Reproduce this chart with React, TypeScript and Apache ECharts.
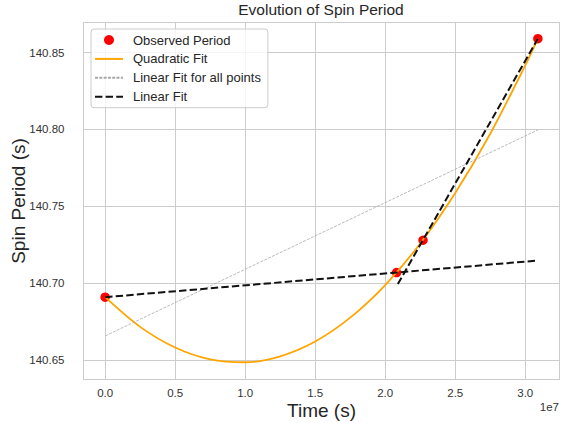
import React, { useEffect, useRef } from "react";
import * as echarts from "echarts";

// Observed data (time in seconds, period in seconds)
const obsTime = [0, 2.081e7, 2.27e7, 3.09e7];
const obsPeriod = [140.691, 140.707, 140.728, 140.859];

// Quadratic fit curve
const quadTime = [0, 0.25e7, 0.5e7, 0.75e7, 1.0e7, 1.25e7, 1.5e7, 1.75e7, 2.0e7, 2.25e7, 2.5e7, 2.75e7, 3.0e7, 3.09e7];
const quadPeriod = [140.691, 140.6717, 140.6583, 140.6506, 140.6487, 140.6526, 140.6622, 140.6777, 140.6989, 140.7259, 140.7587, 140.7972, 140.8416, 140.859];

// Linear fit for all points
const linAllTime = [0, 3.09e7];
const linAllPeriod = [140.6658, 140.7997];

// Linear fits (two segments)
const linATime = [0, 3.09e7];
const linAPeriod = [140.691, 140.7148];
const linBTime = [2.09e7, 3.09e7];
const linBPeriod = [140.6995, 140.859];

const pairs = (xs: number[], ys: number[]) => xs.map((x, i) => [x, ys[i]]);

const FONT = "'Liberation Sans', Arial, Helvetica, sans-serif";
const TXT = "#262626";

export default function App() {
  const ref = useRef<HTMLDivElement>(null);
  useEffect(() => {
    if (!ref.current) return;
    const chart = echarts.init(ref.current, undefined, { renderer: "svg" });
    chart.setOption({
      animation: false,
      backgroundColor: "#ffffff",
      textStyle: { fontFamily: FONT },
      title: {
        text: "Evolution of Spin Period",
        left: 321,
        textAlign: "center",
        top: 1.5,
        padding: 0,
        textStyle: { fontFamily: FONT, fontSize: 15.5, fontWeight: "normal", color: TXT },
      },
      grid: {
        left: 83.5,
        right: 1.5,
        top: 22.5,
        bottom: 43.5,
        show: true,
        borderColor: "#cccccc",
        borderWidth: 1,
        containLabel: false,
        outerBoundsMode: "none",
      },
      legend: {
        orient: "vertical",
        left: 91,
        top: 29,
        padding: [4, 7, 4, 3],
        itemWidth: 28,
        itemHeight: 10,
        itemGap: 4.9,
        backgroundColor: "rgba(255,255,255,0.8)",
        borderColor: "#cccccc",
        borderWidth: 1,
        borderRadius: 3,
        textStyle: { fontFamily: FONT, fontSize: 13, color: TXT, lineHeight: 14, padding: [0, 0, 0, 5] },
        data: [
          { name: "Observed Period" },
          { name: "Quadratic Fit", itemStyle: { opacity: 0 } },
          { name: "Linear Fit for all points", itemStyle: { opacity: 0 } },
          { name: "Linear Fit", itemStyle: { opacity: 0 } },
        ],
      },
      xAxis: {
        type: "value",
        min: -0.1545e7,
        max: 3.2445e7,
        splitNumber: 7,
        name: "Time (s)",
        nameLocation: "middle",
        nameGap: 21,
        nameMoveOverlap: false,
        nameTextStyle: { fontFamily: FONT, fontSize: 19, color: TXT },
        axisLine: { show: false },
        axisTick: { show: false },
        axisLabel: {
          margin: 7,
          fontFamily: FONT,
          fontSize: 11.5,
          color: "#333333",
          showMinLabel: false,
          showMaxLabel: false,
          formatter: (v: number) => {
            const r = v / 1e7;
            return Math.abs(r * 2 - Math.round(r * 2)) < 1e-6 ? r.toFixed(1) : "";
          },
        },
        splitLine: { show: true, lineStyle: { color: "#cccccc", width: 1 } },
      },
      yAxis: {
        type: "value",
        min: 140.6375,
        max: 140.8695,
        splitNumber: 5,
        name: "Spin Period (s)",
        nameLocation: "middle",
        nameGap: 56,
        nameMoveOverlap: false,
        nameTextStyle: { fontFamily: FONT, fontSize: 19, color: TXT },
        axisLine: { show: false },
        axisTick: { show: false },
        axisLabel: {
          margin: 19,
          fontFamily: FONT,
          fontSize: 11.5,
          color: "#333333",
          showMinLabel: false,
          showMaxLabel: false,
          formatter: (v: number) => {
            const r = v * 20;
            return Math.abs(r - Math.round(r)) < 1e-6 ? v.toFixed(2) : "";
          },
        },
        splitLine: { show: true, lineStyle: { color: "#cccccc", width: 1 } },
      },
      graphic: [
        {
          type: "text",
          right: 2,
          top: 401,
          style: { text: "1e7", fontFamily: FONT, fontSize: 11.5, fill: "#333333" },
        },
      ],
      series: [
        {
          name: "Observed Period",
          type: "scatter",
          data: pairs(obsTime, obsPeriod),
          symbol: "circle",
          symbolSize: 9.5,
          itemStyle: { color: "#ff0000", opacity: 1 },
          z: 2,
        },
        {
          name: "Quadratic Fit",
          type: "line",
          data: pairs(quadTime, quadPeriod),
          smooth: 0.3,
          symbol: "none",
          lineStyle: { color: "#ffa500", width: 1.8 },
          itemStyle: { color: "#ffa500" },
          z: 3,
        },
        {
          name: "Linear Fit for all points",
          type: "line",
          data: pairs(linAllTime, linAllPeriod),
          symbol: "none",
          lineStyle: { color: "#a8a8a8", width: 0.8, type: [3, 1.3] },
          itemStyle: { color: "#a8a8a8" },
          z: 3,
        },
        {
          name: "Linear Fit",
          type: "line",
          data: pairs(linATime, linAPeriod),
          symbol: "none",
          lineStyle: { color: "#111111", width: 2, type: [7.4, 3.2] },
          itemStyle: { color: "#111111" },
          z: 4,
        },
        {
          name: "Linear Fit",
          type: "line",
          data: pairs(linBTime, linBPeriod),
          symbol: "none",
          lineStyle: { color: "#111111", width: 2, type: [7.4, 3.2] },
          itemStyle: { color: "#111111" },
          z: 4,
        },
      ],
    });
    return () => chart.dispose();
  }, []);
  return <div ref={ref} style={{ width: 561, height: 423, position: "absolute", left: 0, top: 0 }} />;
}
